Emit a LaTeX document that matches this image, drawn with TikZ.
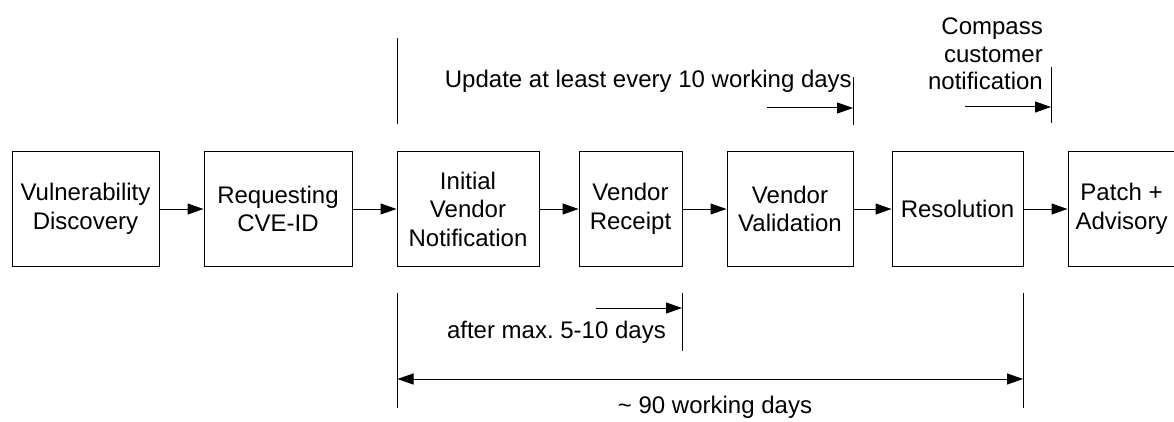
\documentclass[tikz,border=0pt]{standalone}
\usepackage{fontspec}
\setmainfont{Liberation Sans}
\usetikzlibrary{arrows.meta}
\frenchspacing
\begin{document}
\begin{tikzpicture}[x=1pt,y=1pt,
  every node/.style={font=\fontsize{24}{28.5}\selectfont},
  box/.style={draw, line width=1pt, minimum height=114pt, align=center, inner sep=0pt},
  arr/.style={line width=1pt, -{Triangle[length=16pt,width=11pt]}},
  darr/.style={line width=1pt, {Triangle[length=16pt,width=11pt]}-{Triangle[length=16pt,width=11pt]}},
  tickline/.style={line width=1pt},
  lbl/.style={inner sep=0pt}]
\useasboundingbox (0,0) rectangle (1174,421);
% boxes
\node[box, minimum width=147pt] (b1) at (85.5,212) {Vulnerability\\Discovery};
\node[box, minimum width=148pt] (b2) at (278,212) {Requesting\\CVE-ID};
\node[box, minimum width=142pt] (b3) at (468,212) {Initial\\Vendor\\Notification};
\node[box, minimum width=103pt] (b4) at (630.5,212) {Vendor\\Receipt};
\node[box, minimum width=126pt] (b5) at (790,212) {Vendor\\Validation};
\node[box, minimum width=131pt] (b6) at (957.5,212) {Resolution};
\node[box, minimum width=107pt] (b7) at (1121.5,212) {Patch +\\Advisory};
\draw[arr] (b1) -- (b2);
\draw[arr] (b2) -- (b3);
\draw[arr] (b3) -- (b4);
\draw[arr] (b4) -- (b5);
\draw[arr] (b5) -- (b6);
\draw[arr] (b6) -- (b7);
% top markers
\coordinate (t1a) at (397.5,383);
\coordinate (t1b) at (397.5,297);
\coordinate (t2a) at (853,344);
\coordinate (t2b) at (853,296);
\coordinate (u1s) at (767,313);
\coordinate (u1e) at (853,313);
\coordinate (t3a) at (1051,354);
\coordinate (t3b) at (1051,298);
\coordinate (u2s) at (965,314);
\coordinate (u2e) at (1051,314);
\draw[tickline] (t1a) -- (t1b);
\draw[tickline] (t2a) -- (t2b);
\draw[tickline] (t3a) -- (t3b);
\draw[arr] (u1s) -- (u1e);
\draw[arr] (u2s) -- (u2e);
\node[lbl, anchor=base east] (lu) at (852,333) {Update at least every 10 working days};
\node[lbl, anchor=east, align=right, font=\fontsize{24}{27.5}\selectfont] (lc) at (1043,367) {Compass\\customer\\notification};
% bottom markers
\coordinate (bl1) at (397.5,128);
\coordinate (bl2) at (397.5,13);
\coordinate (bm1) at (682,128);
\coordinate (bm2) at (682,70);
\coordinate (br1) at (1023,128);
\coordinate (br2) at (1023,13);
\coordinate (s1) at (596,113);
\coordinate (s2) at (682,113);
\coordinate (d1) at (397.5,42);
\coordinate (d2) at (1023,42);
\draw[tickline] (bl1) -- (bl2);
\draw[tickline] (bm1) -- (bm2);
\draw[tickline] (br1) -- (br2);
\draw[arr] (s1) -- (s2);
\draw[darr] (d1) -- (d2);
\node[lbl, anchor=base east] (la) at (666,83) {after max. 5-10 days};
\node[lbl, anchor=base] (ld) at (715,8) {\textasciitilde{} 90 working days};
\end{tikzpicture}
\end{document}
